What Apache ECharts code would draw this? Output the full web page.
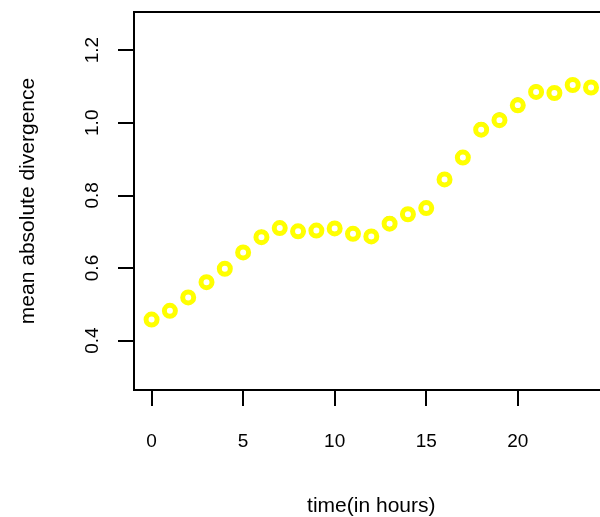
<!DOCTYPE html>
<html>
<head>
<meta charset="utf-8">
<script src="https://cdn.jsdelivr.net/npm/echarts@6/dist/echarts.min.js"></script>
<style>
  html, body { margin: 0; padding: 0; background: #fff; }
  #chart { width: 600px; height: 517px; }
</style>
</head>
<body>
<div id="chart"></div>
<script>
// Hours since start
const hours = [0, 1, 2, 3, 4, 5, 6, 7, 8, 9, 10, 11, 12, 13, 14, 15, 16, 17, 18, 19, 20, 21, 22, 23, 24];
// Mean absolute divergence (front layer, yellow)
const divYellow = [0.458, 0.482, 0.519, 0.561, 0.598, 0.643, 0.685, 0.710, 0.701, 0.703, 0.709, 0.694, 0.687,
                   0.722, 0.748, 0.765, 0.844, 0.904, 0.981, 1.007, 1.048, 1.085, 1.082, 1.104, 1.097];
// Mean absolute divergence (back layer, blue)
const divBlue = [0.458, 0.482, 0.519, 0.561, 0.598, 0.643, 0.686, 0.711, 0.702, 0.704, 0.710, 0.695, 0.688,
                 0.724, 0.749, 0.766, 0.845, 0.906, 0.983, 1.009, 1.050, 1.086, 1.081, 1.104, 1.097];
const xTicks = [0, 5, 10, 15, 20];
const yTicks = [0.4, 0.6, 0.8, 1.0, 1.2];

const font = 'Liberation Sans, Arial, sans-serif';
const chart = echarts.init(document.getElementById('chart'), null, { renderer: 'canvas' });

function ringSeries(name, values, color, width, z) {
  return {
    name: name,
    type: 'scatter',
    data: hours.map((h, i) => [h, values[i]]),
    symbol: 'circle',
    symbolSize: 11,
    z: z,
    itemStyle: { color: 'rgba(0,0,0,0)', borderColor: color, borderWidth: width, opacity: 1 },
    emphasis: { disabled: true }
  };
}

chart.setOption({
  animation: false,
  backgroundColor: '#ffffff',
  grid: {
    left: 134, top: 12, bottom: 127, right: -8.6,
    outerBoundsMode: 'none',
    containLabel: false,
    show: true, borderColor: '#000', borderWidth: 2, backgroundColor: 'transparent'
  },
  xAxis: {
    type: 'value',
    min: -0.96, max: 24.96,
    name: 'time(in hours)',
    nameLocation: 'middle',
    nameGap: 106,
    nameTextStyle: { fontFamily: font, fontSize: 21, color: '#000' },
    axisLine: { show: true, onZero: false, lineStyle: { color: '#000', width: 2 } },
    axisTick: { show: true, length: 16, customValues: xTicks, lineStyle: { color: '#000', width: 2 } },
    axisLabel: { customValues: xTicks, margin: 42, fontFamily: font, fontSize: 19, color: '#000' },
    splitLine: { show: false }
  },
  yAxis: {
    type: 'value',
    min: 0.264, max: 1.305,
    name: 'mean absolute divergence',
    nameLocation: 'middle',
    nameRotate: 90,
    nameGap: 95,
    nameTextStyle: { fontFamily: font, fontSize: 21, color: '#000' },
    axisLine: { show: true, onZero: false, lineStyle: { color: '#000', width: 2 } },
    axisTick: { show: true, length: 16, customValues: yTicks, lineStyle: { color: '#000', width: 2 } },
    axisLabel: {
      customValues: yTicks, rotate: 90, margin: 32,
      fontFamily: font, fontSize: 19, color: '#000',
      formatter: v => Number(v).toFixed(1)
    },
    splitLine: { show: false }
  },
  series: [
    ringSeries('blue', divBlue, '#4060c8', 3, 1),
    ringSeries('yellow', divYellow, '#ffff00', 5, 2)
  ]
});
</script>
</body>
</html>
